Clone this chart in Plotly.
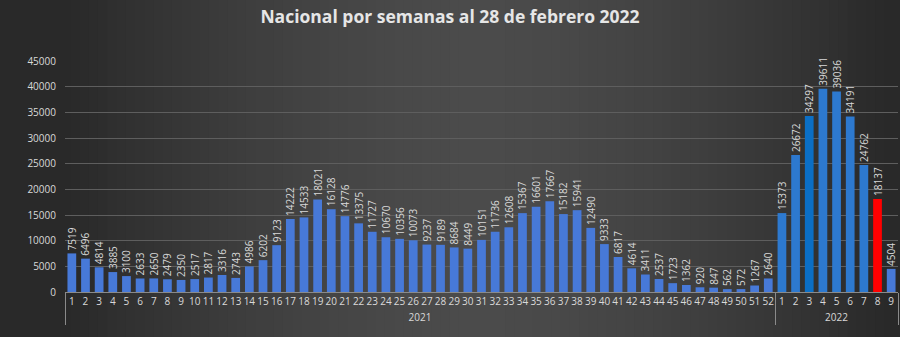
import plotly.graph_objects as go

years = ["2021"] * 52 + ["2022"] * 9
weeks = [str(i) for i in range(1, 53)] + [str(i) for i in range(1, 10)]
cases_2021 = [7519, 6496, 4814, 3885, 3100, 2633, 2650, 2479, 2350, 2517,
              2817, 3316, 2743, 4986, 6202, 9123, 14222, 14533, 18021, 16128,
              14776, 13375, 11727, 10670, 10356, 10073, 9237, 9189, 8684, 8449,
              10151, 11736, 12608, 15367, 16601, 17667, 15182, 15941, 12490, 9333,
              6817, 4614, 3411, 2537, 1723, 1362, 920, 847, 562, 572, 1267, 2640]
cases_2022 = [15373, 26672, 34297, 39611, 39036, 34191, 24762, 18137, 4504]
values = cases_2021 + cases_2022
y_ticks = [0, 5000, 10000, 15000, 20000, 25000, 30000, 35000, 40000, 45000]

colors = []
for i, (yr, wk) in enumerate(zip(years, weeks)):
    if yr == "2021" or wk == "9":
        colors.append("#4779d8")
    elif wk == "8":
        colors.append("#ff0000")
    elif wk == "3":
        colors.append("#0b6fc6")
    else:
        colors.append("#2d79cf")

fig = go.Figure(go.Bar(
    x=[years, weeks], y=values,
    marker=dict(color=colors, line=dict(width=0)),
    texttemplate="%{y:d}", textposition="outside", textangle=-90,
    textfont=dict(color="#d9d9d9", size=10, family="Open Sans"),
    constraintext="none", cliponaxis=False,
))

def lerp(a, b, t):
    return int(round(a + (b - a) * t))

shapes = []
n = 90
for k in range(n):
    x0 = k / n
    x1 = (k + 1) / n
    xc = (x0 + x1) / 2
    d = abs(xc - 0.5) / 0.5
    v = lerp(0x4b, 0x28, d ** 1.6)
    col = f"rgb({v},{v},{v})"
    shapes.append(dict(type="rect", xref="paper", yref="paper", x0=x0 - 0.005, x1=x1,
                       y0=-1, y1=2, fillcolor=col, line=dict(width=0), layer="below"))
shapes[0]["x0"] = -1
shapes[-1]["x1"] = 2

fig.update_layout(
    width=900, height=337,
    margin=dict(l=65, r=2, t=61, b=45),
    paper_bgcolor="#333333", plot_bgcolor="rgba(0,0,0,0)",
    bargap=0.36,
    shapes=shapes,
    showlegend=False,
    title=dict(text="<b>Nacional por semanas al 28 de febrero 2022</b>",
               x=0.5, xanchor="center", y=0.95, yanchor="middle",
               font=dict(family="Open Sans", size=17.5, color="#e6e6e6")),
    font=dict(family="Open Sans", color="#d9d9d9"),
)
fig.update_yaxes(range=[0, 45000], tickvals=y_ticks, tickformat="d", showgrid=True,
                 gridcolor="#5e5e5e", gridwidth=1, zeroline=False,
                 tickfont=dict(size=10, color="#d9d9d9"), ticks="",
                 ticklabelstandoff=8, automargin=False)
fig.update_xaxes(type="multicategory", showline=True, linecolor="#8a8a8a", linewidth=1,
                 tickfont=dict(size=10, color="#d9d9d9"), tickangle=0, showgrid=False,
                 dividercolor="#8a8a8a", dividerwidth=1, showdividers=True,
                 automargin=False, ticks="")

fig.write_html("out.html")
